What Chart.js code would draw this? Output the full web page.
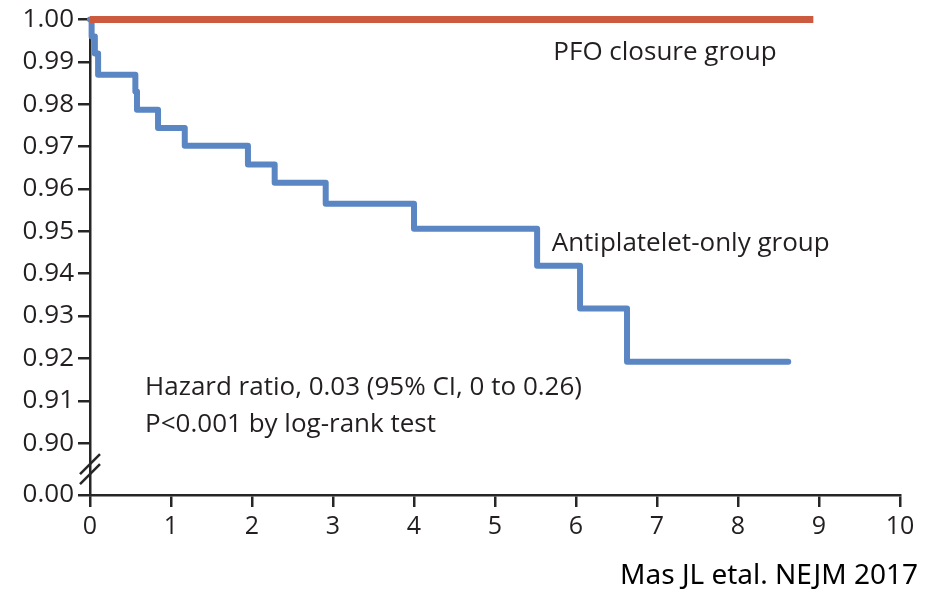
<!DOCTYPE html>
<html>
<head>
<meta charset="utf-8">
<script src="https://cdn.jsdelivr.net/npm/chart.js@4/dist/chart.umd.min.js"></script>
<style>
  html, body { margin: 0; padding: 0; background: #fff; }
  #km { display: block; }
</style>
</head>
<body>
<canvas id="km" width="948" height="592"></canvas>
<script>
// tempo em anos x sobrevida livre de evento
const antiTimes = [0, 0.02, 0.06, 0.10, 0.56, 0.58, 0.84, 1.17, 1.95, 2.28, 2.91, 4.00, 5.52, 6.05, 6.63, 8.62];
const antiSurv  = [1.0, 0.996, 0.992, 0.987, 0.983, 0.9787, 0.9744, 0.9702, 0.9658, 0.9615, 0.9565, 0.9506, 0.9419, 0.9318, 0.9192, 0.9192];
const pfoTimes = [0, 8.93];
const pfoSurv  = [1.0, 1.0];

const xTicks = [0, 1, 2, 3, 4, 5, 6, 7, 8, 9, 10];
const yTicks = [0.90, 0.91, 0.92, 0.93, 0.94, 0.95, 0.96, 0.97, 0.98, 0.99, 1.00];
const yZero = 0.88776; // onde fica o "0.00" depois da quebra do eixo

const fonte = "'Open Sans', sans-serif";
const corEixo = "#262626";

const pontos = (xs, ys) => xs.map((x, i) => ({ x: x, y: ys[i] }));

// desenha a quebra do eixo y e os textos
const extras = {
  id: "extras",
  afterDraw(chart) {
    const { ctx, scales } = chart;
    const x = scales.x, y = scales.y;
    const x0 = x.getPixelForValue(0);
    const yb = (y.getPixelForValue(0.90) + y.getPixelForValue(yZero)) / 2;
    ctx.save();
    ctx.strokeStyle = corEixo;
    ctx.lineWidth = 2.5;
    [-5, 5].forEach((d) => {
      ctx.beginPath();
      ctx.moveTo(x0 - 10, yb + d + 10);
      ctx.lineTo(x0 + 10, yb + d - 10);
      ctx.stroke();
    });

    ctx.fillStyle = "#231f20";
    ctx.font = "26px " + fonte;
    ctx.textBaseline = "middle";
    ctx.textAlign = "left";
    ctx.fillText("PFO closure group", x.getPixelForValue(5.72), y.getPixelForValue(0.9922));
    ctx.fillText("Antiplatelet-only group", x.getPixelForValue(5.70), y.getPixelForValue(0.9472));
    ctx.fillText("Hazard ratio, 0.03 (95% CI, 0 to 0.26)", x.getPixelForValue(0.68), y.getPixelForValue(0.9132));
    ctx.fillText("P<0.001 by log-rank test", x.getPixelForValue(0.68), y.getPixelForValue(0.9043));

    ctx.fillStyle = "#000";
    ctx.font = "28px 'Noto Sans', sans-serif";
    ctx.textAlign = "right";
    ctx.fillText("Mas JL etal. NEJM 2017", 918, 576);
    ctx.restore();
  }
};

new Chart(document.getElementById("km"), {
  type: "line",
  data: {
    datasets: [
      {
        label: "PFO closure group",
        data: pontos(pfoTimes, pfoSurv),
        borderColor: "#cb5a3f",
        borderWidth: 7,
        pointRadius: 0,
        borderCapStyle: "butt",
        clip: false
      },
      {
        label: "Antiplatelet-only group",
        data: pontos(antiTimes, antiSurv),
        borderColor: "#5b86c4",
        borderWidth: 6,
        pointRadius: 0,
        stepped: true,
        borderJoinStyle: "round",
        borderCapStyle: "round",
        clip: false
      }
    ]
  },
  options: {
    responsive: false,
    animation: false,
    layout: { padding: { top: 18, right: 48, left: 0, bottom: 0 } },
    plugins: {
      legend: { display: false },
      tooltip: { enabled: false }
    },
    scales: {
      x: {
        type: "linear",
        min: 0,
        max: 10,
        afterBuildTicks: (s) => { s.ticks = xTicks.map((v) => ({ value: v })); },
        afterFit: (s) => { s.height = 97; },
        border: { display: true, color: corEixo, width: 2.5 },
        grid: { drawOnChartArea: false, drawTicks: true, tickLength: 12, color: corEixo, lineWidth: 2.5 },
        ticks: { color: "#231f20", font: { family: fonte, size: 25 }, padding: 5, maxRotation: 0 }
      },
      y: {
        type: "linear",
        min: yZero,
        max: 1.0,
        afterBuildTicks: (s) => { s.ticks = [yZero].concat(yTicks).map((v) => ({ value: v })); },
        afterFit: (s) => { s.width = 90; },
        border: { display: true, color: corEixo, width: 2.5 },
        grid: { drawOnChartArea: false, drawTicks: true, tickLength: 12, color: corEixo, lineWidth: 2.5 },
        ticks: {
          color: "#231f20",
          font: { family: fonte, size: 26 },
          padding: 4,
          callback: (v) => (v < 0.89 ? "0.00" : v.toFixed(2))
        }
      }
    }
  },
  plugins: [extras]
});
</script>
</body>
</html>
